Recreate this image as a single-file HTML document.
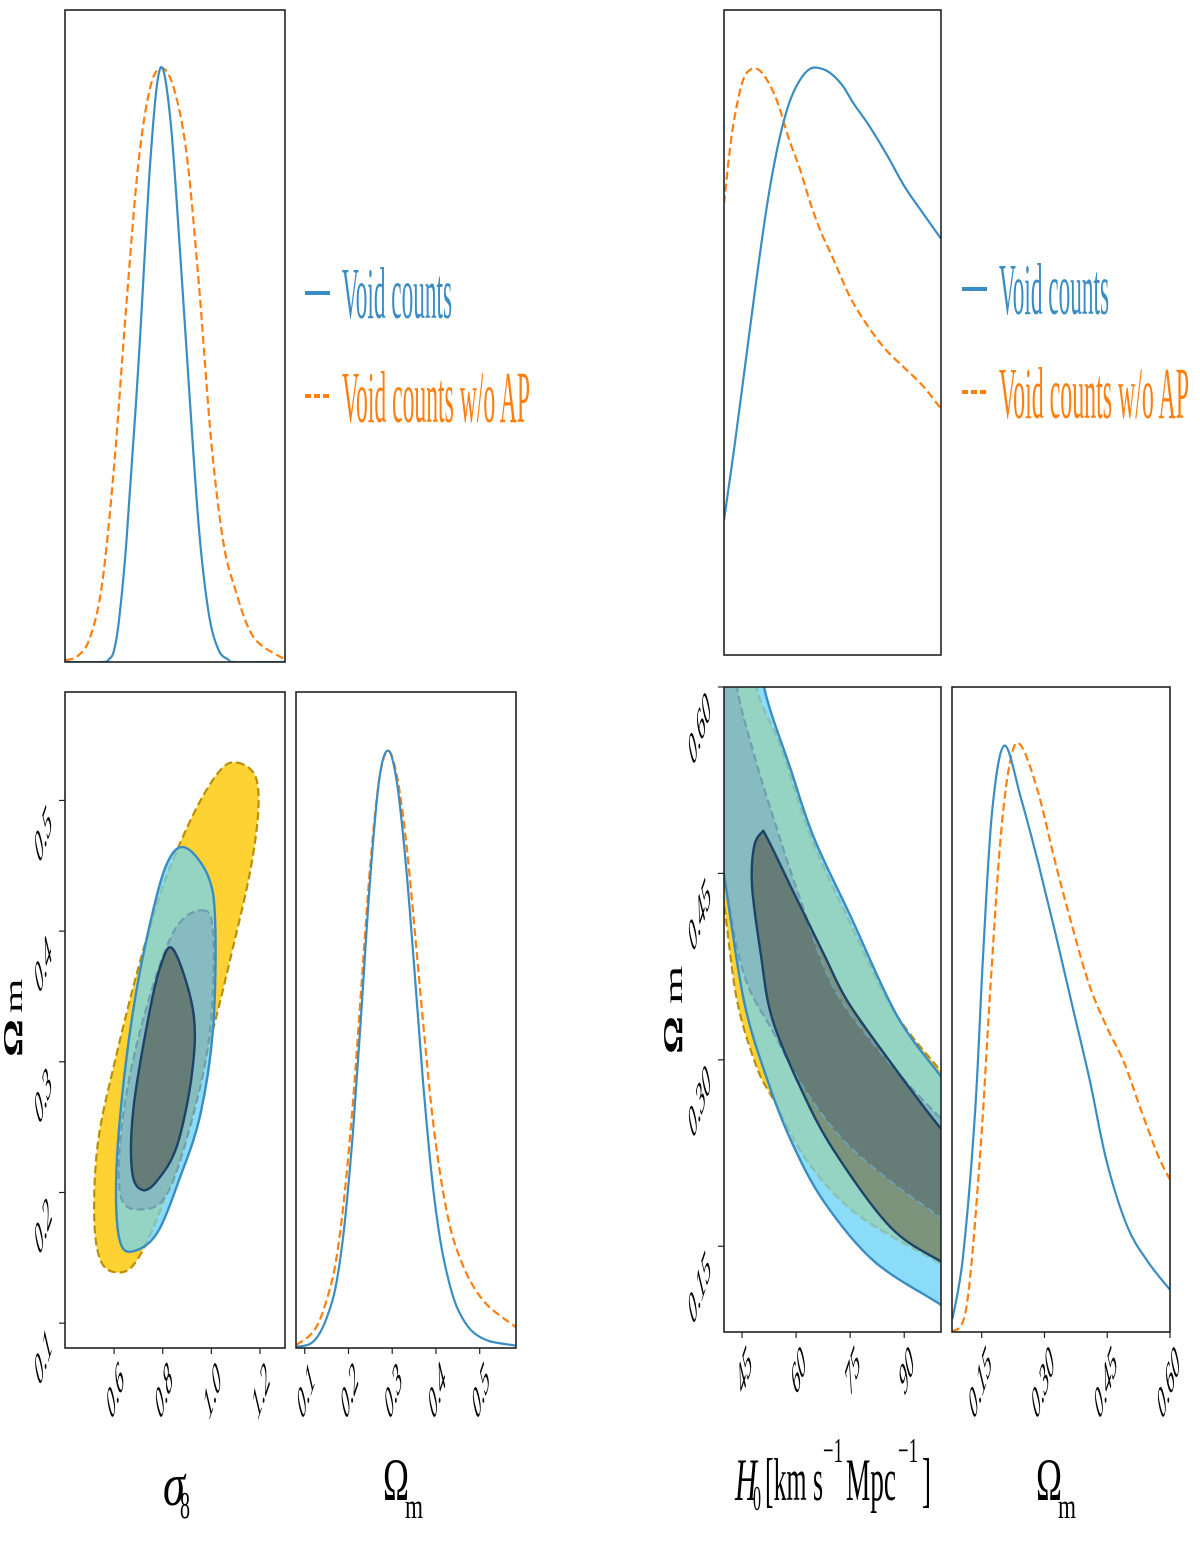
<!DOCTYPE html>
<html><head><meta charset="utf-8"><style>
html,body{margin:0;padding:0;background:#fff;}
svg{display:block;}
text{font-family:"Liberation Serif",serif;}
</style></head><body>
<svg id="fig" width="1200" height="1543" viewBox="0 0 1200 1543" xmlns="http://www.w3.org/2000/svg">
<defs id="defs"></defs>
<g id="root"></g>
</svg>
<script>
// ===== data =====
const s8Grid = [0.40,0.55,0.58,0.60,0.62,0.65,0.70,0.75,0.79,0.83,0.87,0.91,0.95,0.99,1.03,1.07,1.10,1.30];
const s8Blue = [0,0,0.005,0.02,0.07,0.2,0.5,0.85,1.0,0.92,0.7,0.45,0.22,0.08,0.02,0.004,0,0];
const s8OrGrid = [0.40,0.45,0.50,0.55,0.60,0.65,0.70,0.75,0.80,0.85,0.90,0.95,1.00,1.05,1.10,1.15,1.20,1.30];
const s8Orange = [0.003,0.01,0.04,0.13,0.33,0.6,0.84,0.97,1.0,0.96,0.85,0.63,0.37,0.2,0.12,0.06,0.03,0.005];
const omLGrid = [0.08,0.11,0.13,0.15,0.17,0.19,0.21,0.23,0.25,0.27,0.29,0.31,0.33,0.35,0.37,0.39,0.41,0.43,0.45,0.48,0.52,0.583];
const omLBlue = [0.002,0.006,0.02,0.05,0.10,0.20,0.36,0.57,0.79,0.95,1.0,0.95,0.82,0.64,0.45,0.29,0.18,0.11,0.065,0.03,0.012,0.004];
const omLOrange = [0.005,0.02,0.04,0.08,0.14,0.25,0.41,0.61,0.81,0.95,1.0,0.96,0.86,0.71,0.55,0.40,0.29,0.21,0.16,0.11,0.07,0.035];
const leftY2 = [[1.106,0.529],[1.180,0.519],[1.193,0.492],[1.160,0.446],[1.086,0.385],[0.995,0.316],[0.892,0.247],[0.789,0.186],[0.686,0.146],[0.604,0.139],[0.542,0.149],[0.518,0.182],[0.534,0.239],[0.604,0.301],[0.707,0.377],[0.810,0.439],[0.933,0.492],[1.036,0.523]];
const leftY1 = [[0.962,0.416],[1.007,0.399],[0.995,0.325],[0.925,0.259],[0.818,0.199],[0.707,0.187],[0.625,0.199],[0.637,0.259],[0.719,0.332],[0.843,0.399]];
const leftB2 = [[0.892,0.464],[0.987,0.442],[1.016,0.406],[1.007,0.325],[0.954,0.259],[0.872,0.212],[0.777,0.169],[0.678,0.155],[0.625,0.162],[0.608,0.199],[0.625,0.259],[0.678,0.339],[0.748,0.406],[0.818,0.452]];
const leftB1 = [[0.843,0.386],[0.925,0.339],[0.921,0.292],[0.859,0.236],[0.777,0.209],[0.715,0.202],[0.674,0.216],[0.678,0.262],[0.736,0.329],[0.789,0.372]];
const h0Grid = [40,43,46,49,52,55,58,61,64,67,70,73,76,80,85,90,95,100.2];
const h0Blue = [0.23,0.36,0.5,0.64,0.77,0.87,0.94,0.98,1.0,1.0,0.99,0.97,0.94,0.905,0.855,0.80,0.755,0.71];
const h0OrGrid = [40,42,44,46,49,52,55,58,61,64,67,70,75,80,85,90,95,100.2];
const h0Orange = [0.77,0.88,0.95,0.99,1.0,0.98,0.94,0.88,0.83,0.77,0.72,0.68,0.61,0.56,0.52,0.49,0.46,0.42];
const omRBlueGrid = [0.08,0.105,0.134,0.154,0.175,0.204,0.244,0.285,0.326,0.367,0.408,0.449,0.498,0.547,0.60];
const omRBlue = [0.022,0.127,0.373,0.652,0.889,1.0,0.91,0.80,0.68,0.555,0.43,0.29,0.18,0.12,0.072];
const omROrGrid = [0.08,0.114,0.146,0.171,0.196,0.22,0.244,0.285,0.326,0.367,0.408,0.449,0.49,0.53,0.572,0.60];
const omROrange = [0.0,0.044,0.30,0.59,0.85,0.98,1.0,0.92,0.80,0.69,0.59,0.52,0.46,0.38,0.30,0.26];
const rightB2 = [[49,0.66],[51.1,0.600],[58.6,0.533],[64.9,0.479],[75.2,0.415],[87.9,0.336],[100.1,0.287],[106,0.265],[106,0.09],[100.1,0.103],[81.6,0.138],[67.7,0.186],[58.6,0.235],[51.9,0.285],[45.5,0.348],[40,0.449],[36,0.52],[36,0.66]];
const rightY2 = [[47,0.66],[48.9,0.600],[56,0.55],[64,0.48],[75,0.41],[87,0.34],[100.1,0.291],[106,0.27],[106,0.125],[100.1,0.136],[76.8,0.176],[63.0,0.219],[53.9,0.267],[49.1,0.294],[43.6,0.348],[40,0.425],[36,0.5],[36,0.66]];
const rightY1 = [[42,0.66],[43.6,0.600],[48.3,0.546],[53.9,0.493],[61.3,0.428],[70.5,0.358],[85.2,0.300],[100.1,0.253],[106,0.24],[106,0.16],[100.1,0.173],[86.3,0.202],[73.2,0.235],[62.2,0.277],[53.9,0.321],[45.5,0.369],[40,0.449],[36,0.53],[36,0.66]];
const rightB1 = [[50.5,0.483],[48.3,0.471],[47.8,0.439],[50.2,0.385],[53.3,0.334],[61.3,0.277],[70.5,0.227],[86.3,0.165],[100.1,0.138],[106,0.13],[106,0.23],[100.1,0.245],[85.2,0.302],[74.1,0.348],[67.7,0.385],[58.6,0.439],[51.9,0.479]];
const s8Ticks = [0.6,0.8,1.0,1.2];
const s8TickLabels = ["0.6","0.8","1.0","1.2"];
const omLTicks = [0.1,0.2,0.3,0.4,0.5];
const omLTickLabels = ["0.1","0.2","0.3","0.4","0.5"];
const h0Ticks = [45,60,75,90];
const h0TickLabels = ["45","60","75","90"];
const omRTicks = [0.15,0.30,0.45,0.60];
const omRTickLabels = ["0.15","0.30","0.45","0.60"];
const legendLabels = ["Void counts","Void counts w/o AP"];

// ===== helpers =====
const NS="http://www.w3.org/2000/svg";
const root=document.getElementById('root');
const defs=document.getElementById('defs');
const BLUE="#3a8dc2", ORANGE="#ff7f0e";
function el(tag,attrs,parent){const e=document.createElementNS(NS,tag);for(const k in attrs)e.setAttribute(k,attrs[k]);(parent||root).appendChild(e);return e;}
function scale(d0,d1,r0,r1){return v=>r0+(v-d0)/(d1-d0)*(r1-r0);}
function crPath(pts,closed){
  const n=pts.length;let d="M"+pts[0][0].toFixed(1)+","+pts[0][1].toFixed(1);
  const get=i=>closed?pts[(i+n)%n]:pts[Math.max(0,Math.min(n-1,i))];
  const last=closed?n:n-1;
  for(let i=0;i<last;i++){
    const p0=get(i-1),p1=get(i),p2=get(i+1),p3=get(i+2);
    const c1=[p1[0]+(p2[0]-p0[0])/6,p1[1]+(p2[1]-p0[1])/6];
    const c2=[p2[0]-(p3[0]-p1[0])/6,p2[1]-(p3[1]-p1[1])/6];
    d+="C"+c1[0].toFixed(1)+","+c1[1].toFixed(1)+" "+c2[0].toFixed(1)+","+c2[1].toFixed(1)+" "+p2[0].toFixed(1)+","+p2[1].toFixed(1);
  }
  return d+(closed?"Z":"");
}
let clipId=0;
function clipFrom(d){const id="cp"+(clipId++);const c=el('clipPath',{id:id},defs);el('path',{d:d},c);return "url(#"+id+")";}
function clipRect(x,y,w,h){const id="cp"+(clipId++);const c=el('clipPath',{id:id},defs);el('rect',{x:x,y:y,width:w,height:h},c);return "url(#"+id+")";}
function box(x,y,w,h,name){
  const r=el('rect',{x:x,y:y,width:w,height:h,fill:'none',stroke:'#222','stroke-width':1.6});
  
  
}
function tickText(g,str,ox,oy,name){
  const tx=el('text',{x:0,y:0,'font-size':30,'font-style':'italic','text-anchor':'end',transform:`translate(${ox},${oy}) scale(0.5,1.5) rotate(-45)`},g);
  tx.textContent=str;
  
  
}
function xTicks(sx,ticks,labels,yb,name){
  const g=el('g',{});
  
  
  ticks.forEach((t,i)=>{
    const x=sx(t);
    el('line',{x1:x,y1:yb,x2:x,y2:yb+6,stroke:'#222','stroke-width':1.2},g);
    tickText(g,labels[i],x+11,yb+33,'x-tick-label');
  });
}
function yTicks(sy,ticks,labels,xl,name){
  const g=el('g',{});
  
  
  ticks.forEach((t,i)=>{
    const y=sy(t);
    el('line',{x1:xl-6,y1:y,x2:xl,y2:y,stroke:'#222','stroke-width':1.2},g);
    tickText(g,labels[i],xl-12,y+24,'y-tick-label');
  });
}
function curve(xs,ys,sx,sy,color,dash,name,clip){
  const pts=xs.map((v,i)=>[sx(v),sy(ys[i])]);
  const p=el('path',{d:crPath(pts,false),fill:'none',stroke:color,'stroke-width':2.2,'stroke-dasharray':dash||'none','clip-path':clip});
  
  
}
function stretchText(str,x,yb,len,size,sy,color,name,italic){
  const g=el('g',{transform:`translate(${x},${yb}) scale(1,${sy})`});
  const t=el('text',{x:0,y:0,'font-size':size,fill:color,textLength:len,lengthAdjust:'spacingAndGlyphs','font-style':italic?'italic':'normal'},g);
  t.textContent=str;
  
  
  return t;
}
function contours(sx,sy,Y2,Y1,B2,B1,clipBox,prefix){
  const P=a=>crPath(a.map(p=>[sx(p[0]),sy(p[1])]),true);
  const dY2=P(Y2),dY1=P(Y1),dB2=P(B2),dB1=P(B1);
  const g=el('g',{'clip-path':clipBox});
  
  
  const cY2=clipFrom(dY2),cB2=clipFrom(dB2),cY1=clipFrom(dY1);
  let e;
  e=el('path',{d:dY2,fill:'#fed232',stroke:'none'},g);
  
  e=el('path',{d:dB2,fill:'#8adcf8'},g);
  
  const gg=el('g',{'clip-path':cY2},g);el('path',{d:dB2,fill:'#95d4c3'},gg);
  const gy=el('g',{'clip-path':cB2},g);
  e=el('path',{d:dY1,fill:'#86bbc1'},gy);
  
  const go=el('g',{'clip-path':cY2},g);el('path',{d:dB1,fill:'#7a937a'},go);
  const gd=el('g',{'clip-path':cY1},g);
  e=el('path',{d:dB1,fill:'#667c77'},gd);
  
  el('path',{d:dY2,fill:'none',stroke:'#b8900c','stroke-width':2.2,'stroke-dasharray':'8,4'},g);
  const go2=el('g',{'clip-path':cB2},g);
  el('path',{d:dY2,fill:'none',stroke:'#86c4bb','stroke-width':2.2,'stroke-dasharray':'8,4'},go2);
  el('path',{d:dY1,fill:'none',stroke:'#6f9fae','stroke-width':2.2,'stroke-dasharray':'8,4'},go2);
  el('path',{d:dB2,fill:'none',stroke:BLUE,'stroke-width':2.4},g);
  el('path',{d:dB1,fill:'none',stroke:'#1d4468','stroke-width':2.4},g);
}

// ===== LEFT triangle =====
const L={x0:65,x1:285,yT0:10,yT1:662,y0:692,y1:1348,mx0:296,mx1:516};
const sxS8=scale(0.398,1.303,L.x0,L.x1);
const syTop=scale(0,1.098,L.yT1,L.yT0);
const cTL=clipRect(L.x0,L.yT0,L.x1-L.x0,L.yT1-L.yT0);
curve(s8OrGrid,s8Orange,sxS8,syTop,ORANGE,'8,4','sigma8-woap-curve',cTL);
curve(s8Grid,s8Blue,sxS8,syTop,BLUE,null,'sigma8-void-curve',cTL);
box(L.x0,L.yT0,L.x1-L.x0,L.yT1-L.yT0,'sigma8-marginal-panel');

const syOmL=scale(0.081,0.583,L.y1,L.y0);
contours(sxS8,syOmL,leftY2,leftY1,leftB2,leftB1,clipRect(L.x0,L.y0,L.x1-L.x0,L.y1-L.y0),'left');
box(L.x0,L.y0,L.x1-L.x0,L.y1-L.y0,'sigma8-omegam-panel');
xTicks(sxS8,s8Ticks,s8TickLabels,L.y1,'sigma8-x-ticks');
yTicks(syOmL,omLTicks,omLTickLabels,L.x0,'omegam-y-ticks-left');

const sxOmL=scale(0.08,0.583,L.mx0,L.mx1);
const syMR=scale(0,1.098,L.y1,L.y0);
const cML=clipRect(L.mx0,L.y0,L.mx1-L.mx0,L.y1-L.y0);
curve(omLGrid,omLOrange,sxOmL,syMR,ORANGE,'8,4','omegam-woap-curve-left',cML);
curve(omLGrid,omLBlue,sxOmL,syMR,BLUE,null,'omegam-void-curve-left',cML);
box(L.mx0,L.y0,L.mx1-L.mx0,L.y1-L.y0,'omegam-marginal-panel-left');
xTicks(sxOmL,omLTicks,omLTickLabels,L.y1,'omegam-x-ticks-left');

// ===== RIGHT triangle =====
const R={x0:724,x1:941,yT0:10,yT1:655,y0:687,y1:1332,mx0:952,mx1:1170};
const sxH0=scale(40,100.2,R.x0,R.x1);
const syTopR=scale(0,1.1,R.yT1,R.yT0);
const cTR=clipRect(R.x0,R.yT0,R.x1-R.x0,R.yT1-R.yT0);
curve(h0OrGrid,h0Orange,sxH0,syTopR,ORANGE,'8,4','h0-woap-curve',cTR);
curve(h0Grid,h0Blue,sxH0,syTopR,BLUE,null,'h0-void-curve',cTR);
box(R.x0,R.yT0,R.x1-R.x0,R.yT1-R.yT0,'h0-marginal-panel');

const syOmR=scale(0.081,0.60,R.y1,R.y0);
contours(sxH0,syOmR,rightY2,rightY1,rightB2,rightB1,clipRect(R.x0,R.y0,R.x1-R.x0,R.y1-R.y0),'right');
box(R.x0,R.y0,R.x1-R.x0,R.y1-R.y0,'h0-omegam-panel');
xTicks(sxH0,h0Ticks,h0TickLabels,R.y1,'h0-x-ticks');
yTicks(syOmR,omRTicks,omRTickLabels,R.x0,'omegam-y-ticks-right');

const sxOmR=scale(0.079,0.60,R.mx0,R.mx1);
const syMRR=scale(0,1.1,R.y1,R.y0);
const cMR=clipRect(R.mx0,R.y0,R.mx1-R.mx0,R.y1-R.y0);
curve(omROrGrid,omROrange,sxOmR,syMRR,ORANGE,'8,4','omegam-woap-curve-right',cMR);
curve(omRBlueGrid,omRBlue,sxOmR,syMRR,BLUE,null,'omegam-void-curve-right',cMR);
box(R.mx0,R.y0,R.mx1-R.mx0,R.y1-R.y0,'omegam-marginal-panel-right');
xTicks(sxOmR,omRTicks,omRTickLabels,R.y1,'omegam-x-ticks-right');

// ===== legends =====
function legend(x,yBlue,yOr,len1,len2,name){
  const g=el('g',{});
  
  
  el('line',{x1:x,y1:yBlue,x2:x+25,y2:yBlue,stroke:BLUE,'stroke-width':4},g);
  el('line',{x1:x,y1:yOr,x2:x+25,y2:yOr,stroke:ORANGE,'stroke-width':4,'stroke-dasharray':'6,3'},g);
  const t1=stretchText(legendLabels[0],x+37,yBlue+25,len1,40,1.82,BLUE,'legend-entry-void-counts');
  g.appendChild(t1.parentNode);
  const t2=stretchText(legendLabels[1],x+37,yOr+26,len2,40,1.82,ORANGE,'legend-entry-void-counts-wo-ap');
  g.appendChild(t2.parentNode);
}
legend(305,293,396,110,188,'legend-left');
legend(962,289,392,110,190,'legend-right');

// ===== axis labels =====
stretchText("σ",163,1505,22,40,1.5,'#000','x-axis-title-sigma8',true);
stretchText("8",180,1518,10,24,1.6,'#000','x-axis-title-sigma8-sub');
stretchText("Ω",383,1500,26,40,1.5,'#000','x-axis-title-omegam-left');
stretchText("m",405,1518,18,22,1.6,'#000','x-axis-title-omegam-left-sub');
stretchText("Ω",1036,1500,26,40,1.5,'#000','x-axis-title-omegam-right');
stretchText("m",1058,1518,18,22,1.6,'#000','x-axis-title-omegam-right-sub');
stretchText("H",735,1500,22,40,1.5,'#000','x-axis-title-h0',true);
stretchText("0",753,1510,8,22,1.6,'#000','x-axis-title-h0-sub');
stretchText("[km s",765,1500,58,40,1.5,'#000','x-axis-title-h0-unit1');
stretchText("−1",823,1462,20,22,1.6,'#000','x-axis-title-h0-exp1');
stretchText("Mpc",846,1500,50,40,1.5,'#000','x-axis-title-h0-unit2');
stretchText("−1",898,1462,20,22,1.6,'#000','x-axis-title-h0-exp2');
stretchText("]",922,1500,9,40,1.5,'#000','x-axis-title-h0-unit3');
function yLabel(x,y,mOff,mScale,name){
  const g=el('g',{transform:`translate(${x},${y}) rotate(-90)`});
  
  
  const t=el('text',{x:0,y:0,'font-size':38,'font-weight':'bold',transform:'scale(1.25,0.72)'},g);t.textContent="Ω";
  const s=el('text',{x:0,y:0,'font-size':34,transform:`translate(${mOff},0) scale(${mScale},0.75)`},g);s.textContent="m";
}
yLabel(22,1057,44,1.3,'y-axis-title-omegam-left');
yLabel(682,1054,50,1.45,'y-axis-title-omegam-right');
</script>
</body></html>
